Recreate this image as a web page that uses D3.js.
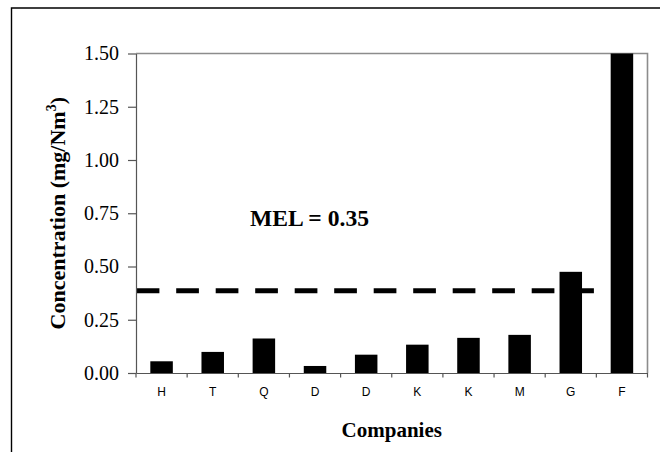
<!DOCTYPE html>
<html><head><meta charset="utf-8">
<script src="https://cdn.jsdelivr.net/npm/d3@7"></script>
<style>body{margin:0;background:#fff}svg{display:block}</style>
</head><body>
<script>
const companies = ["H","T","Q","D","D","K","K","M","G","F"];
const concentration = [0.055,0.099,0.162,0.033,0.086,0.133,0.165,0.179,0.475,1.50];
const yTicks = [0,0.25,0.5,0.75,1.0,1.25,1.5];
const melLevel = 0.386;
const melLabel = "MEL = 0.35";

const W=660,H=452;
const svg=d3.select("body").append("svg").attr("width",W).attr("height",H);
const m={l:136,t:53.5,r:647.5,b:373};

// outer frame
svg.append("path").attr("d",`M11.5,${H}V8H${W}`).attr("fill","none").attr("stroke","#000").attr("stroke-width",1.4);

const idx=d3.range(companies.length);
const x=d3.scaleBand().domain(idx).range([m.l,m.r]).paddingInner(0).paddingOuter(0);
const y=d3.scaleLinear().domain([0,1.5]).range([m.b,m.t]);

// plot border top/right
svg.append("path").attr("d",`M${m.l},${m.t}H${m.r}V${m.b}`).attr("fill","none").attr("stroke","#8c8c8c").attr("stroke-width",1.6);

// bars
const bw=x.bandwidth()*0.44;
svg.append("g").selectAll("rect").data(concentration).join("rect")
  .attr("x",(d,i)=>x(i)+x.bandwidth()/2-bw/2)
  .attr("y",d=>y(d)).attr("width",bw).attr("height",d=>y(0)-y(d)).attr("fill","#000");

// MEL dashed line
svg.append("line").attr("x1",x(0)+0.7).attr("x2",x(companies.length-1))
  .attr("y1",y(melLevel)).attr("y2",y(melLevel))
  .attr("stroke","#000").attr("stroke-width",5).attr("stroke-dasharray","22.7,16.8");

// y axis
const ya=svg.append("g").attr("transform",`translate(${m.l},0)`)
  .call(d3.axisLeft(y).tickValues(yTicks).tickFormat(d3.format(".2f")).tickSize(8).tickPadding(9).tickSizeOuter(0));
ya.select(".domain").attr("stroke","#555").attr("stroke-width",1.2);
ya.selectAll(".tick line").attr("stroke","#555").attr("stroke-width",1.2);
ya.selectAll("text").attr("font-family","'Liberation Serif','Times New Roman',serif").attr("font-size",20).attr("fill","#000");

// x axis
const xa=svg.append("g").attr("transform",`translate(0,${m.b})`)
  .call(d3.axisBottom(x).tickFormat(i=>companies[i]).tickSize(0).tickPadding(14));
xa.select(".domain").attr("stroke","#555").attr("stroke-width",1.2);
xa.selectAll("text").attr("font-family","'Liberation Sans',Arial,sans-serif").attr("font-size",12).attr("fill","#000");
xa.selectAll(".sep").data(d3.range(companies.length+1)).join("line").attr("class","sep")
  .attr("x1",i=>m.l+i*x.bandwidth()).attr("x2",i=>m.l+i*x.bandwidth())
  .attr("y1",0).attr("y2",4.5).attr("stroke","#555").attr("stroke-width",1.2);

// labels
svg.append("text").attr("x",(m.l+m.r)/2).attr("y",437).attr("text-anchor","middle")
  .attr("font-family","'Liberation Serif','Times New Roman',serif").attr("font-weight","bold").attr("font-size",21).text("Companies");
const yl=svg.append("text").attr("transform",`translate(65,${(m.t+m.b)/2}) rotate(-90)`).attr("text-anchor","middle")
  .attr("font-family","'Liberation Serif','Times New Roman',serif").attr("font-weight","bold").attr("font-size",22);
yl.append("tspan").text("Concentration (mg/Nm");
yl.append("tspan").attr("font-size",14).attr("dy",-9).text("3");
yl.append("tspan").attr("dy",9).text(")");
svg.append("text").attr("x",250).attr("y",225.5)
  .attr("font-family","'Liberation Serif','Times New Roman',serif").attr("font-weight","bold").attr("font-size",23.6).text(melLabel);
</script>
</body></html>
